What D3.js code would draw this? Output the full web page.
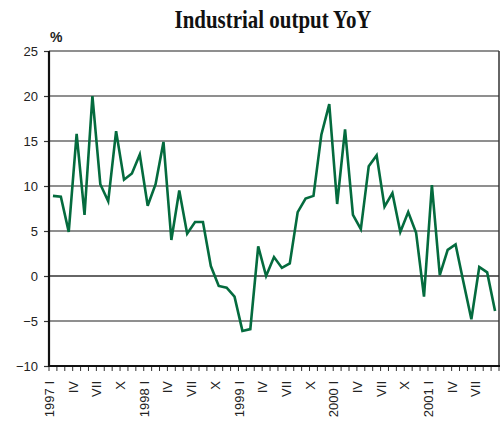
<!DOCTYPE html>
<html>
<head>
<meta charset="utf-8">
<script src="https://cdn.jsdelivr.net/npm/d3@7"></script>
<style>
  body { margin: 0; background: #fff; }
  svg { display: block; }
</style>
</head>
<body>
<script>
// monthly data, 1997 I .. 2001 IX
var years = [1997, 1998, 1999, 2000, 2001],
	romans = ['I', 'II', 'III', 'IV', 'V', 'VI', 'VII', 'VIII', 'IX', 'X', 'XI', 'XII'],
	shownMonths = ['I', 'IV', 'VII', 'X'],
	yTicks = [-10, -5, 0, 5, 10, 15, 20, 25];

var values = [
	8.9, 8.8, 4.9, 15.8, 6.8, 20.0, 10.2, 8.3, 16.1, 10.7, 11.4, 13.5,   // 1997
	7.8, 10.2, 14.9, 4.0, 9.5, 4.7, 6.0, 6.0, 1.1, -1.1, -1.3, -2.3,      // 1998
	-6.1, -5.9, 3.3, 0.0, 2.1, 0.9, 1.4, 7.1, 8.6, 8.9, 15.7, 19.1,       // 1999
	8.0, 16.3, 6.8, 5.2, 12.2, 13.4, 7.7, 9.2, 4.9, 7.1, 4.8, -2.3,       // 2000
	10.1, 0.1, 2.9, 3.5, -0.7, -4.8, 1.0, 0.4, -3.9                       // 2001
];

var categories = [];
years.forEach(function(y) {
	romans.forEach(function(m) {
		if (categories.length < values.length) categories.push({ year: y, month: m });
	});
});

// note: "top" is taken by window.top, so plot edges get a prefix
var w = 501, h = 424,
	pLeft = 49, pRight = 499, pTop = 51, pBottom = 366;

var svg = d3.select('body').append('svg')
	.attr('width', w)
	.attr('height', h);

var x = d3.scaleBand()
	.domain(d3.range(categories.length))
	.range([pLeft, pRight])
	.paddingInner(0).paddingOuter(0);

var y = d3.scaleLinear()
	.domain([-10, 25])
	.range([pBottom, pTop]);

// title (condensed serif in the original)
svg.append('text')
	.attr('x', 273).attr('y', 28)
	.attr('text-anchor', 'middle')
	.attr('textLength', 197)
	.attr('lengthAdjust', 'spacingAndGlyphs')
	.style('font-family', '"Liberation Serif", "DejaVu Serif", serif')
	.style('font-weight', 'bold')
	.style('font-size', '25px')
	.attr('fill', '#111')
	.text('Industrial output YoY');

svg.append('text')
	.attr('x', 50).attr('y', 42)
	.style('font-family', '"Liberation Sans", Arial, sans-serif')
	.style('font-weight', 'bold')
	.style('font-size', '14px')
	.attr('fill', '#222')
	.text('%');

// grid lines
svg.append('g').selectAll('line')
	.data(yTicks.filter(function(d) { return d > -10; }))
	.enter().append('line')
		.attr('x1', pLeft).attr('x2', pRight)
		.attr('y1', function(d) { return y(d); })
		.attr('y2', function(d) { return y(d); })
		.attr('stroke', function(d) { return d === 0 ? '#333' : '#6a6a6a'; })
		.attr('stroke-width', function(d) { return d === 0 ? 1.6 : 1.3; });

// right border
svg.append('line')
	.attr('x1', pRight).attr('x2', pRight)
	.attr('y1', pTop).attr('y2', pBottom)
	.attr('stroke', '#333').attr('stroke-width', 1.5);

// y axis
var yAxis = svg.append('g')
	.attr('transform', 'translate(' + pLeft + ',0)')
	.call(d3.axisLeft(y).tickValues(yTicks).tickSize(5).tickPadding(6));
yAxis.select('.domain').remove();
yAxis.selectAll('.tick line').attr('stroke', '#333').attr('stroke-width', 1.2);
yAxis.selectAll('.tick text')
	.style('font-family', '"Liberation Sans", Arial, sans-serif')
	.style('font-size', '13px')
	.attr('fill', '#222');

svg.append('line')
	.attr('x1', pLeft).attr('x2', pLeft)
	.attr('y1', pTop).attr('y2', pBottom + 1)
	.attr('stroke', '#111').attr('stroke-width', 2.2);

// x axis: ticks at month boundaries
var edges = d3.range(categories.length + 1);
svg.append('g').selectAll('line')
	.data(edges)
	.enter().append('line')
		.attr('x1', function(d) { return d < categories.length ? x(d) : pRight; })
		.attr('x2', function(d) { return d < categories.length ? x(d) : pRight; })
		.attr('y1', pBottom).attr('y2', pBottom + 5)
		.attr('stroke', '#333').attr('stroke-width', 1);

svg.append('line')
	.attr('x1', pLeft - 1).attr('x2', pRight + 1)
	.attr('y1', pBottom).attr('y2', pBottom)
	.attr('stroke', '#111').attr('stroke-width', 2.2);

svg.append('g').selectAll('text')
	.data(categories.map(function(c, i) { return { c: c, i: i }; })
		.filter(function(d) { return shownMonths.indexOf(d.c.month) >= 0; }))
	.enter().append('text')
		.attr('transform', function(d) {
			return 'translate(' + (x(d.i) + 0.5) + ',' + 381 + ')rotate(-90)';
		})
		.attr('text-anchor', 'end')
		.attr('dy', '0.35em')
		.style('font-family', '"Liberation Sans", Arial, sans-serif')
		.style('font-size', '13px')
		.attr('fill', '#222')
		.text(function(d) {
			return d.c.month === 'I' ? d.c.year + ' I' : d.c.month;
		});

// the series
var line = d3.line()
	.x(function(d, i) { return x(i) + x.bandwidth() / 2; })
	.y(function(d) { return y(d); });

svg.append('path')
	.datum(values)
	.attr('d', line)
	.attr('fill', 'none')
	.attr('stroke', '#046b3e')
	.attr('stroke-width', 2.6)
	.attr('stroke-linejoin', 'miter');
</script>
</body>
</html>
